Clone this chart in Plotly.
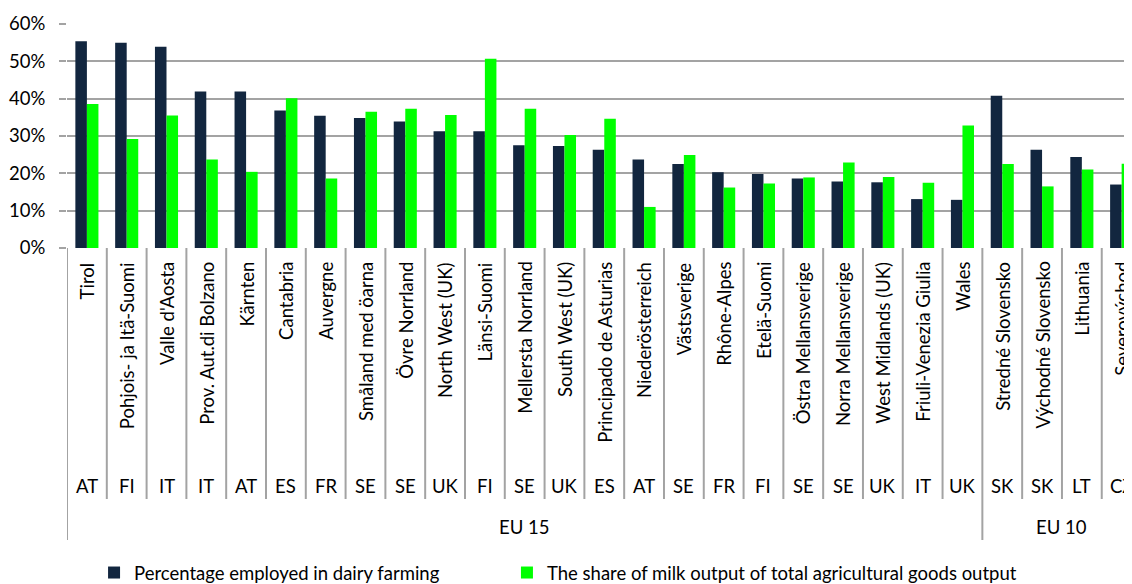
import plotly.graph_objects as go

regions = ["Tirol", "Pohjois- ja Itä-Suomi", "Valle d'Aosta", "Prov. Aut.di Bolzano", "Kärnten",
           "Cantabria", "Auvergne", "Småland med öarna", "Övre Norrland", "North West (UK)",
           "Länsi-Suomi", "Mellersta Norrland", "South West (UK)", "Principado de Asturias",
           "Niederösterreich", "Västsverige", "Rhône-Alpes", "Etelä-Suomi", "Östra Mellansverige",
           "Norra Mellansverige", "West Midlands (UK)", "Friuli-Venezia Giulia", "Wales",
           "Stredné Slovensko", "Východné Slovensko", "Lithuania", "Severovýchod"]
countries = ["AT", "FI", "IT", "IT", "AT", "ES", "FR", "SE", "SE", "UK", "FI", "SE", "UK", "ES",
             "AT", "SE", "FR", "FI", "SE", "SE", "UK", "IT", "UK", "SK", "SK", "LT", "CZ"]
groups = ["EU 15"] * 23 + ["EU 10"] * 4

employed = [55.4, 55.0, 53.9, 41.9, 41.9, 36.8, 35.4, 34.8, 33.9, 31.3, 31.3, 27.5, 27.3, 26.3,
            23.7, 22.5, 20.3, 19.8, 18.6, 17.8, 17.6, 13.1, 12.9, 40.8, 26.3, 24.4, 17.0]
milk_share = [38.6, 29.2, 35.5, 23.7, 20.4, 40.1, 18.6, 36.5, 37.3, 35.6, 50.7, 37.3, 30.3, 34.6,
              11.0, 24.9, 16.2, 17.3, 18.9, 22.9, 19.0, 17.5, 32.8, 22.5, 16.5, 21.0, 22.6]

y_ticks = [0, 10, 20, 30, 40, 50, 60]
y_tick_labels = ["0%", "10%", "20%", "30%", "40%", "50%", "60%"]

series_names = ["Percentage employed in dairy farming",
                "The share of milk output of total agricultural goods output"]
colors = ["#12263f", "#00ff00"]

FONT = "Lato"
FS = 18.5
GRID = "#a3a3a3"
TXT = "#000000"

# the page body adds an 8px margin; compensate so the chart fills the window
OFF = 8

fig = go.Figure()
fig.add_trace(go.Bar(x=regions, y=employed, name=series_names[0], marker_color=colors[0],
                     marker_line_width=0, legend="legend"))
fig.add_trace(go.Bar(x=regions, y=milk_share, name=series_names[1], marker_color=colors[1],
                     marker_line_width=0, legend="legend2"))

# plot area: y from 24 px (top) to 248 px (bottom) on screen, height 224
H = 224.0
def py(px):
    return -(px - 248.0) / H

annotations = []
shapes = []
for i, (r, c) in enumerate(zip(regions, countries)):
    annotations.append(dict(x=r, y=py(260), xref="x", yref="paper", text=r, textangle=-90,
                            showarrow=False, xanchor="center", yanchor="top",
                            font=dict(family=FONT, size=FS, color=TXT)))
    annotations.append(dict(x=r, y=py(486), xref="x", yref="paper", text=c,
                            showarrow=False, xanchor="center", yanchor="middle",
                            font=dict(family=FONT, size=FS, color=TXT)))

# group labels and separators
group_order = []
bounds = {}
for i, g in enumerate(groups):
    if g not in group_order:
        group_order.append(g)
    lo, hi = bounds.get(g, (i, i))
    bounds[g] = (min(lo, i), max(hi, i))
for g in group_order:
    lo, hi = bounds[g]
    annotations.append(dict(x=(lo + hi) / 2.0, y=py(527), xref="x", yref="paper", text=g,
                            showarrow=False, xanchor="center", yanchor="middle",
                            font=dict(family=FONT, size=FS, color=TXT)))

group_edges = set(bounds[g][0] - 0.5 for g in group_order)
for k in range(len(regions)):
    xb = k - 0.5
    y1 = py(540) if xb in group_edges else py(499)
    shapes.append(dict(type="line", xref="x", yref="paper", x0=xb, x1=xb, y0=0, y1=y1,
                       line=dict(color=GRID, width=2)))

legend_common = dict(orientation="h", xanchor="left", y=py(573), yanchor="middle",
                     font=dict(family=FONT, size=FS, color=TXT), itemwidth=30,
                     bgcolor="rgba(0,0,0,0)")

fig.update_layout(
    width=1132 - OFF, height=584 - OFF,
    margin=dict(l=67 - OFF, r=0, t=24 - OFF, b=336, autoexpand=False),
    paper_bgcolor="white", plot_bgcolor="white",
    barmode="group", bargap=0.42, bargroupgap=0,
    font=dict(family=FONT, size=FS, color=TXT),
    showlegend=True,
    legend=dict(x=0.0254, **legend_common),
    legend2=dict(x=0.4131, **legend_common),
    annotations=annotations,
    shapes=shapes,
    xaxis=dict(type="category", range=[-0.5, 26.26], showticklabels=False, showgrid=False,
               zeroline=False, showline=False, ticks="", automargin=False),
    yaxis=dict(range=[0, 60], tickmode="array", tickvals=y_ticks, ticktext=y_tick_labels,
               showgrid=True, gridcolor=GRID, gridwidth=1.6, zeroline=False,
               showline=False, ticks="outside", ticklen=7, tickcolor=GRID, tickwidth=1.6,
               ticklabelstandoff=10, automargin=False,
               tickfont=dict(family=FONT, size=FS, color=TXT)),
)

fig.write_html("out.html")
